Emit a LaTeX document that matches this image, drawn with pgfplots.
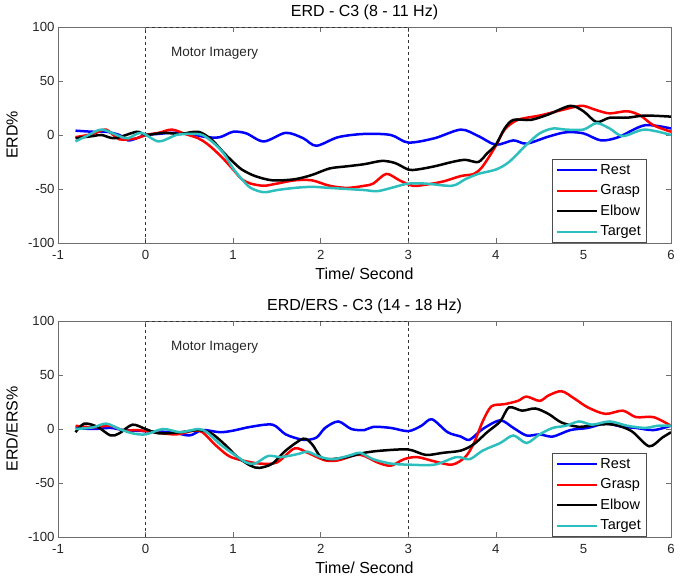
\documentclass[border=0pt]{standalone}
\usepackage{fontspec}
\setmainfont{Liberation Sans}
\usepackage{pgfplots}
\pgfplotsset{compat=1.18}
\usepackage{pgfplotstable}
\definecolor{cRest}{RGB}{0,0,255}
\definecolor{cGrasp}{RGB}{255,0,0}
\definecolor{cElbow}{RGB}{0,0,0}
\definecolor{cTarget}{RGB}{45,190,190}
\definecolor{axgray}{RGB}{110,110,110}

\pgfplotstableread{
x y
-0.8 4
-0.6 3
-0.45 3
-0.3 0
-0.2 -5
-0.1 -3
0 0
0.15 1
0.3 2
0.5 1
0.7 -2
0.85 -2
1.0 3
1.15 1.5
1.35 -6
1.6 2
1.8 -3
1.95 -10
2.2 -2
2.5 1
2.8 0
3.0 -7
3.3 -3
3.6 5
3.8 -1
4.0 -9
4.2 -5
4.35 -8
4.6 -1.5
4.8 2.5
5.0 1.5
5.2 -5
5.4 -2
5.7 9
6.0 6
}\topRest
\pgfplotstableread{
x y
-0.8 -2
-0.6 1
-0.45 5
-0.3 -4
-0.1 -3
0 0
0.15 2
0.3 5
0.45 1
0.6 -3
0.7 -8
0.8 -15
0.9 -23
1.0 -32
1.1 -41
1.2 -45
1.35 -47
1.5 -45
1.7 -42
1.9 -42
2.1 -47
2.3 -49
2.5 -47
2.6 -45
2.75 -36
2.9 -42
3.05 -47
3.2 -46
3.4 -43
3.6 -38
3.75 -36
3.85 -29
4.0 -10
4.1 5
4.25 14
4.5 18
4.7 22
4.9 26
5.0 27
5.15 23
5.3 20
5.5 22
5.65 18
5.8 9
6.0 3
}\topGrasp
\pgfplotstableread{
x y
-0.8 -3
-0.6 -1
-0.5 0
-0.35 -3
-0.1 3
0 0
0.2 2
0.4 1
0.6 3
0.75 -4
0.9 -17
1.0 -25
1.1 -32
1.25 -38
1.45 -42
1.7 -41
1.9 -37
2.1 -31
2.3 -29
2.5 -27
2.7 -24
2.85 -26
3.0 -32
3.1 -32
3.3 -29
3.5 -25
3.65 -23
3.8 -25
3.9 -17
4.0 -9
4.1 6
4.2 14
4.4 14
4.6 19
4.85 27
5.0 22
5.15 12
5.3 16
5.5 16
5.7 18
6.0 17
}\topElbow
\pgfplotstableread{
x y
-0.8 -6
-0.65 0
-0.5 5
-0.3 -1
-0.2 -3
-0.05 2
0.15 -6
0.35 0
0.5 1
0.65 0
0.8 -9
0.9 -18
1.0 -31
1.1 -41
1.2 -49
1.35 -53
1.5 -51
1.7 -49
1.9 -48
2.1 -49
2.3 -50
2.5 -51
2.65 -52
2.85 -48
3.0 -45
3.2 -45
3.5 -47
3.65 -41
3.8 -36
4.0 -32
4.15 -25
4.35 -9
4.5 1.5
4.65 6
4.8 5
5.0 5
5.15 11
5.3 6
5.45 -1
5.7 5
6.0 0
}\topTarget

\pgfplotstableread{
x y
-0.8 1
-0.6 0
-0.4 1
-0.25 -1
0 -2
0.3 -3
0.5 -6
0.65 -1
0.85 -3
1.0 -1.5
1.2 2
1.45 4
1.6 -5
1.8 -10
1.95 -8
2.05 1
2.2 7
2.35 0
2.5 -1
2.6 2
2.8 1
3.0 -2
3.15 3
3.27 9
3.45 -3
3.6 -7
3.7 -10
3.85 0
4.05 8
4.2 1
4.35 -6
4.5 -5
4.65 -7
4.85 -1
5.05 1
5.25 5
5.45 2
5.6 1
5.8 -1
6.0 3
}\botRest
\pgfplotstableread{
x y
-0.8 3
-0.6 1.5
-0.4 3
-0.25 -1.5
-0.1 -1
0.1 -3
0.35 -5
0.55 -1.5
0.65 -3
0.8 -15
0.95 -25
1.1 -29
1.3 -32
1.5 -31
1.7 -18
1.85 -22
2.05 -29
2.2 -29
2.4 -24
2.5 -25
2.65 -31
2.8 -34
2.95 -28
3.1 -26
3.3 -30
3.5 -33
3.65 -26
3.75 -13
3.85 7
3.95 21
4.1 23
4.25 26
4.35 30
4.5 26
4.6 31
4.75 35
4.9 28
5.05 20
5.25 14
5.45 17
5.6 11
5.8 11
6.0 3
}\botGrasp
\pgfplotstableread{
x y
-0.8 -3
-0.7 5
-0.55 2
-0.4 -6
-0.3 -4
-0.15 4
0 0
0.15 -4
0.4 -3
0.6 -1
0.75 -4
0.9 -14
1.05 -26
1.2 -34
1.3 -36
1.45 -32
1.6 -20
1.8 -9
1.9 -14
2.0 -26
2.1 -28
2.3 -26
2.5 -22
2.7 -20
3.0 -19
3.2 -24
3.4 -22
3.6 -20
3.75 -14
3.9 -3
4.05 7
4.15 20
4.3 17
4.45 19
4.6 14
4.75 6
4.95 2
5.15 4
5.35 4
5.55 -2
5.75 -16
5.9 -8
6.0 -3
}\botElbow
\pgfplotstableread{
x y
-0.8 0
-0.6 1.5
-0.45 5
-0.3 0
-0.15 -4
0 -5
0.2 0
0.4 -3
0.6 0
0.7 -3
0.85 -14
1.0 -23
1.15 -31
1.25 -32
1.4 -25
1.55 -26
1.75 -23
1.85 -21
2.0 -26
2.15 -28
2.35 -24
2.45 -22
2.6 -28
2.8 -32
3.0 -33
3.3 -33
3.55 -26
3.7 -28
3.85 -20
4.05 -13
4.2 -6
4.35 -13
4.5 -5
4.65 1
4.8 3
4.95 7
5.1 4
5.3 7
5.5 3
5.7 1
5.85 3
6.0 3
}\botTarget

\pgfplotsset{
  erdstyle/.style={
    scale only axis,
    width=613pt, height=216pt,
    xmin=-1, xmax=6, ymin=-100, ymax=100,
    xtick={-1,0,...,6}, ytick={-100,-50,0,50,100},
    axis line style={draw=axgray, line width=0.7pt},
    tick style={draw=axgray, line width=0.7pt},
    major tick length=5pt,
    tick align=inside,
    xtick pos=both, ytick pos=both,
    /pgf/number format/assume math mode=true,
    ticklabel style={font=\fontsize{13.2}{15}\selectfont, text=black!85},
    xticklabel style={anchor=base, yshift=-17pt},
    xlabel={Time/ Second},
    xlabel style={at={(axis description cs:0.5,0)}, anchor=base, yshift=-37pt, font=\fontsize{16}{18}\selectfont},
    ylabel style={at={(axis description cs:-0.075,0.5)}, anchor=center, font=\fontsize{16}{18}\selectfont},
    title style={at={(axis description cs:0.5,1)}, anchor=base, yshift=4pt, font=\fontsize{16}{18}\selectfont},
    legend cell align=left,
    legend style={at={(axis description cs:0.961,0)}, anchor=south east,
      draw=black!70, line width=0.6pt, fill=white,
      font=\fontsize{14.5}{17}\selectfont,
      inner xsep=4pt, inner ysep=1.5pt, row sep=2pt,
      nodes={inner sep=2pt, text height=11pt, text depth=3.5pt},
      /tikz/every even column/.append style={column sep=1pt}},
    legend image code/.code={\draw[#1, line width=2pt] (0pt,0pt) -- (40pt,0pt);},
    every axis plot/.append style={line width=2.5pt, smooth, tension=0.5},
  }
}

\begin{document}
\begin{tikzpicture}[x=1pt,y=1pt]
\begin{axis}[erdstyle, at={(58pt,334pt)}, anchor=south west,
  title={ERD - C3 (8 - 11 Hz)}, ylabel={ERD\%}]
\draw[dashed, line width=0.6pt, black!80] (axis cs:0,-100) rectangle (axis cs:3,100);
\node[font=\fontsize{13.5}{15}\selectfont, text=black!85] at (axis cs:0.79,76) {Motor Imagery};
\addplot[cRest] table {\topRest};
\addplot[cGrasp] table {\topGrasp};
\addplot[cElbow] table {\topElbow};
\addplot[cTarget] table {\topTarget};
\legend{Rest, Grasp, Elbow, Target}
\end{axis}
\begin{axis}[erdstyle, at={(58pt,40pt)}, anchor=south west,
  title={ERD/ERS - C3 (14 - 18 Hz)}, ylabel={ERD/ERS\%}]
\draw[dashed, line width=0.6pt, black!80] (axis cs:0,-100) rectangle (axis cs:3,100);
\node[font=\fontsize{13.5}{15}\selectfont, text=black!85] at (axis cs:0.79,76) {Motor Imagery};
\addplot[cRest] table {\botRest};
\addplot[cGrasp] table {\botGrasp};
\addplot[cElbow] table {\botElbow};
\addplot[cTarget] table {\botTarget};
\legend{Rest, Grasp, Elbow, Target}
\end{axis}
\pgfresetboundingbox
\path[use as bounding box] (0,0) rectangle (680,577);
\end{tikzpicture}
\end{document}
